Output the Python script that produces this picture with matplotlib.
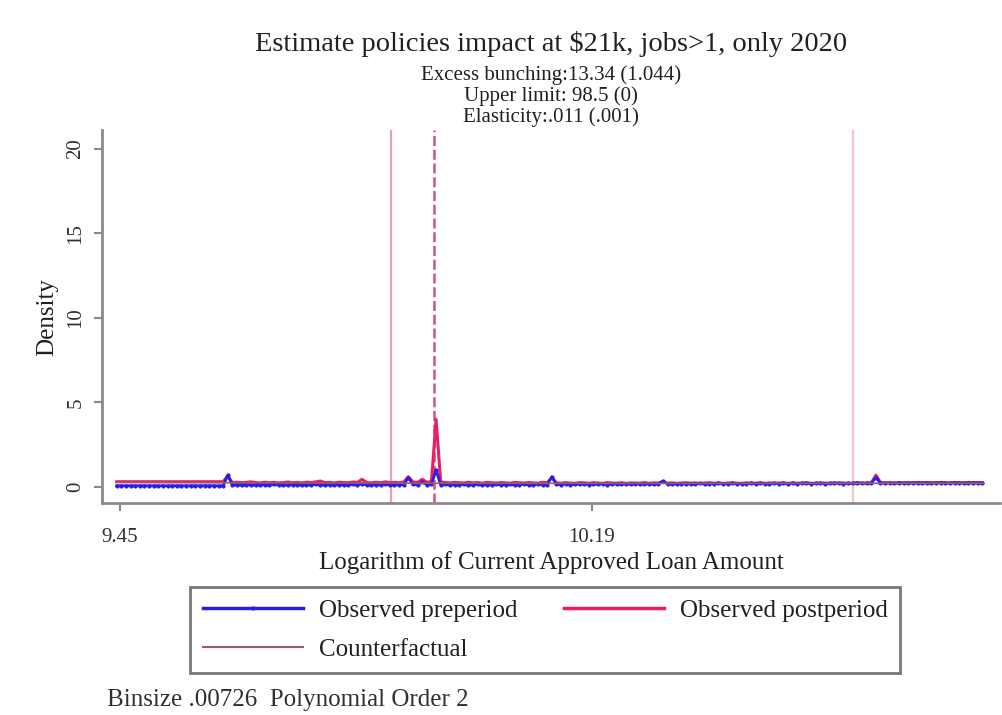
import numpy as np
import matplotlib
matplotlib.use("Agg")
import matplotlib.pyplot as plt

plt.rcParams['font.family'] = ['Liberation Serif', 'DejaVu Serif']

# bunching estimates, log loan amount bins
binsize = 0.00726
bin_start = 9.445
lower_limit = 9.8755
threshold = 9.943
upper_limit = 10.600

pre_density = [
    0.07, 0.07, 0.07, 0.07, 0.07, 0.07, 0.07, 0.07, 0.07, 0.07, 0.07, 0.07,
    0.07, 0.07, 0.07, 0.07, 0.07, 0.07, 0.07, 0.07, 0.07, 0.07, 0.07, 0.07,
    0.70, 0.10, 0.12, 0.10, 0.14, 0.11, 0.10, 0.13, 0.12, 0.10, 0.15, 0.11,
    0.12, 0.10, 0.14, 0.12, 0.09, 0.13, 0.11, 0.16, 0.12, 0.10, 0.13, 0.11,
    0.14, 0.10, 0.12, 0.15, 0.11, 0.20, 0.12, 0.10, 0.13, 0.12, 0.16, 0.11,
    0.12, 0.14, 0.13, 0.55, 0.15, 0.12, 0.30, 0.14, 0.16, 1.00, 0.12, 0.15,
    0.11, 0.14, 0.12, 0.16, 0.10, 0.13, 0.15, 0.11, 0.14, 0.12, 0.16, 0.13,
    0.12, 0.15, 0.11, 0.14, 0.17, 0.12, 0.13, 0.16, 0.12, 0.14, 0.60, 0.15,
    0.14, 0.18, 0.13, 0.16, 0.15, 0.19, 0.14, 0.17, 0.15, 0.18, 0.14, 0.16,
    0.19, 0.15, 0.17, 0.16, 0.20, 0.15, 0.18, 0.17, 0.16, 0.19, 0.35, 0.17,
    0.18, 0.16, 0.20, 0.17, 0.19, 0.18, 0.21, 0.17, 0.19, 0.18, 0.22, 0.19,
    0.18, 0.21, 0.19, 0.20, 0.18, 0.22, 0.19, 0.21, 0.20, 0.18, 0.22, 0.20,
    0.21, 0.19, 0.23, 0.20, 0.21, 0.22, 0.19, 0.23, 0.21, 0.20, 0.22, 0.21,
    0.23, 0.20, 0.22, 0.21, 0.24, 0.22, 0.21, 0.23, 0.55, 0.24, 0.22, 0.23,
    0.21, 0.24, 0.22, 0.23, 0.25, 0.22, 0.24, 0.23, 0.22, 0.25, 0.23, 0.24,
    0.22, 0.25, 0.23, 0.24, 0.22, 0.25, 0.23, 0.24,
]

post_density = [
    0.31, 0.31, 0.31, 0.31, 0.31, 0.31, 0.31, 0.31, 0.31, 0.31, 0.31, 0.31,
    0.31, 0.31, 0.31, 0.31, 0.31, 0.31, 0.31, 0.31, 0.31, 0.31, 0.31, 0.31,
    0.65, 0.26, 0.28, 0.25, 0.27, 0.30, 0.26, 0.24, 0.28, 0.25, 0.27, 0.24,
    0.26, 0.29, 0.25, 0.27, 0.24, 0.28, 0.26, 0.30, 0.35, 0.25, 0.27, 0.24,
    0.28, 0.26, 0.25, 0.29, 0.27, 0.45, 0.26, 0.24, 0.28, 0.25, 0.30, 0.26,
    0.27, 0.25, 0.29, 0.60, 0.30, 0.27, 0.45, 0.28, 0.32, 4.00, 0.30, 0.26,
    0.24, 0.27, 0.25, 0.23, 0.28, 0.24, 0.26, 0.22, 0.27, 0.25, 0.23, 0.26,
    0.24, 0.22, 0.27, 0.25, 0.23, 0.26, 0.24, 0.22, 0.28, 0.25, 0.55, 0.24,
    0.22, 0.25, 0.23, 0.21, 0.26, 0.24, 0.22, 0.25, 0.23, 0.21, 0.26, 0.23,
    0.22, 0.25, 0.21, 0.24, 0.23, 0.22, 0.26, 0.21, 0.24, 0.23, 0.30, 0.22,
    0.24, 0.21, 0.23, 0.25, 0.22, 0.24, 0.21, 0.23, 0.25, 0.22, 0.24, 0.21,
    0.23, 0.25, 0.22, 0.21, 0.24, 0.23, 0.22, 0.25, 0.21, 0.24, 0.22, 0.23,
    0.25, 0.21, 0.24, 0.22, 0.23, 0.25, 0.22, 0.21, 0.24, 0.23, 0.22, 0.25,
    0.22, 0.24, 0.21, 0.23, 0.25, 0.22, 0.24, 0.23, 0.70, 0.26, 0.24, 0.25,
    0.23, 0.26, 0.24, 0.25, 0.23, 0.27, 0.24, 0.26, 0.25, 0.23, 0.27, 0.25,
    0.24, 0.26, 0.25, 0.23, 0.27, 0.24, 0.26, 0.25,
]

cf_x = [9.445, 9.70, 9.95, 10.30, 10.805]
cf_y = [0.27, 0.24, 0.22, 0.21, 0.22]

xticks = [9.45, 10.19]
xtick_labels = ['9.45', '10.19']
yticks = [0, 5, 10, 15, 20]

bin_x = bin_start + binsize * np.arange(len(pre_density))

fig = plt.figure(figsize=(10.02, 7.15), dpi=100)
ax = fig.add_axes([0.1018, 0.2965, 0.896, 0.5215])

ax.plot(bin_x, pre_density, color='#2a1ee6', lw=2.0, marker='o', ms=2.0, zorder=3)
ax.plot(bin_x, post_density, color='#ee1d62', lw=2.2, zorder=2)
ax.plot(cf_x, cf_y, color='#9a5a72', lw=1.2, zorder=4)

ax.axvline(lower_limit, color='#e2a2ba', lw=1.6, zorder=1)
ax.axvline(upper_limit, color='#f0c4d4', lw=1.6, zorder=1)
ax.axvline(threshold, color='#d4527e', lw=1.8, ls=(0, (4, 1.5)), zorder=1)

ax.set_xlim(9.422, 10.83)
ax.set_ylim(-0.95, 21.1)

for s in ['top', 'right']:
    ax.spines[s].set_visible(False)
for s in ['left', 'bottom']:
    ax.spines[s].set_color('#8a8a8a')
    ax.spines[s].set_linewidth(2.0)

ax.set_xticks(xticks)
ax.set_xticklabels(xtick_labels)
ax.set_yticks(yticks)
ax.tick_params(axis='both', colors='#8a8a8a', length=6, width=1.5,
               labelcolor='#303030', labelsize=15)
ax.tick_params(axis='x', pad=12)
ax.tick_params(axis='y', labelrotation=90, pad=6)
for lab in ax.get_yticklabels():
    lab.set_va('center')

ax.set_ylabel('Density', fontsize=18, color='#202020', labelpad=6)
ax.set_xlabel('Logarithm of Current Approved Loan Amount', fontsize=18,
              color='#202020', labelpad=3)

fig.text(0.55, 0.938, 'Estimate policies impact at $21k, jobs>1, only 2020',
         ha='center', va='center', fontsize=20.5, color='#202020')
fig.text(0.55, 0.895, 'Excess bunching:13.34 (1.044)', ha='center', va='center',
         fontsize=15, color='#202020')
fig.text(0.55, 0.865, 'Upper limit: 98.5 (0)', ha='center', va='center',
         fontsize=15, color='#202020')
fig.text(0.55, 0.836, 'Elasticity:.011 (.001)', ha='center', va='center',
         fontsize=15, color='#202020')

# column-major fill: pre and counterfactual in column one, post in column two
handles = [
    plt.Line2D([], [], color='#2a1ee6', lw=2.5, marker='o', ms=2.0),
    plt.Line2D([], [], color='#9a5a72', lw=1.5),
    plt.Line2D([], [], color='#ee1d62', lw=2.5),
]
labels = ['Observed preperiod', 'Counterfactual', 'Observed postperiod']
leg = fig.legend(handles, labels, ncol=2, loc='center',
                 bbox_to_anchor=(0.544, 0.119), frameon=True, fancybox=False,
                 fontsize=18, handlelength=4.0, columnspacing=1.85,
                 handletextpad=0.65, borderpad=0.5, labelspacing=0.65,
                 borderaxespad=0)
leg.get_frame().set_edgecolor('#555555')
leg.get_frame().set_linewidth(2.0)
for t in leg.get_texts():
    t.set_color('#202020')

fig.text(0.107, 0.021, 'Binsize .00726  Polynomial Order 2', ha='left',
         va='center', fontsize=18, color='#303030')

fig.savefig('out.png', dpi=100)
